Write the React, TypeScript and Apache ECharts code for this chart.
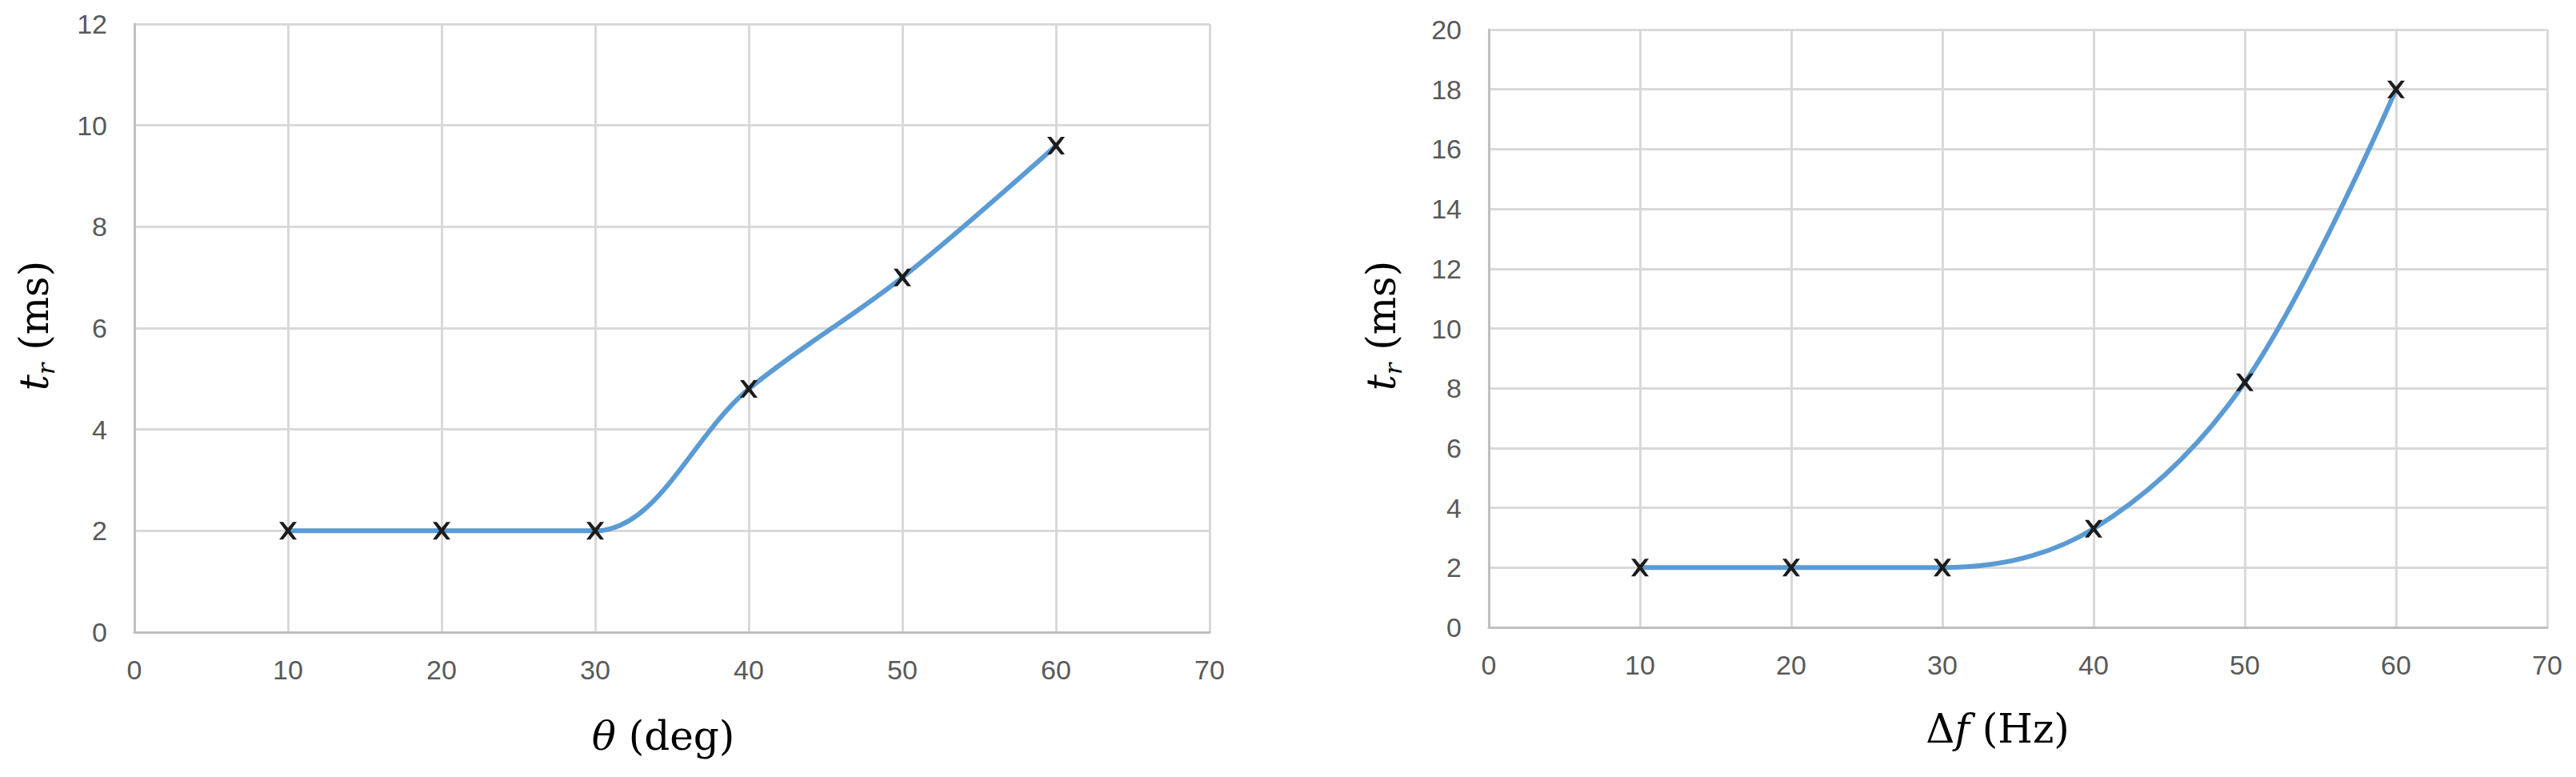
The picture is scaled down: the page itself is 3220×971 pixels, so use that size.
import React, { useEffect, useRef } from "react";
import * as echarts from "echarts";

const xTicks = [0, 10, 20, 30, 40, 50, 60, 70];
const thetaX = [10, 20, 30, 40, 50, 60];
const thetaT = [2.0, 2.0, 2.0, 4.8, 7.0, 9.6];
const dfX = [10, 20, 30, 40, 50, 60];
const dfT = [2.0, 2.0, 2.0, 3.3, 8.2, 18.0];

const xSymbol =
  "path://M0,0L2.2,0L5,3.4L7.8,0L10,0L6.3,5L10,10L7.8,10L5,6.6L2.2,10L0,10L3.7,5Z";

export default function App() {
  const ref = useRef<HTMLDivElement>(null);
  useEffect(() => {
    document.body.style.margin = "0";
    const chart = echarts.init(ref.current!, null, { renderer: "svg" });
    const tickFont = {
      fontFamily: "Liberation Sans",
      fontSize: 34,
      color: "#595959",
    };
    const grid = (i: number) => ({});
    const xAxis = (gi: number) => ({
      type: "value",
      gridIndex: gi,
      min: xTicks[0],
      max: xTicks[xTicks.length - 1],
      interval: 10,
      axisLine: { show: true, lineStyle: { color: "#bfbfbf", width: 3 } },
      axisTick: { show: false },
      axisLabel: { ...tickFont, margin: 30 },
      splitLine: { show: true, lineStyle: { color: "#d9d9d9", width: 3 } },
    });
    const yAxis = (gi: number, max: number) => ({
      type: "value",
      gridIndex: gi,
      min: 0,
      max,
      interval: 2,
      axisLine: { show: true, lineStyle: { color: "#bfbfbf", width: 3 } },
      axisTick: { show: false },
      axisLabel: { ...tickFont, margin: 34 },
      splitLine: { show: true, lineStyle: { color: "#d9d9d9", width: 3 } },
    });
    const series = (gi: number, xs: number[], ys: number[]) => ({
      type: "line",
      xAxisIndex: gi,
      yAxisIndex: gi,
      data: xs.map((x, i) => [x, ys[i]]),
      smooth: 0.35,
      symbol: xSymbol,
      symbolSize: 22,
      lineStyle: { color: "#5b9bd5", width: 6 },
      itemStyle: { color: "#1c1c1c" },
      z: 3,
    });
    const serif = "DejaVu Serif";
    const titleRich = {
      n: { fontFamily: serif, fontSize: 50, color: "#000" },
      i: { fontFamily: serif, fontSize: 50, fontStyle: "italic", color: "#000" },
      s: {
        fontFamily: serif,
        fontSize: 30,
        fontStyle: "italic",
        color: "#000",
        verticalAlign: "bottom",
        padding: [0, 0, -4, 0],
      },
    };
    chart.setOption({
      animation: false,
      grid: [
        { left: 168, top: 30, width: 1344, height: 760 },
        { left: 1861, top: 37, width: 1323, height: 747 },
      ],
      xAxis: [xAxis(0), xAxis(1)],
      yAxis: [yAxis(0, 12), yAxis(1, 20)],
      series: [series(0, thetaX, thetaT), series(1, dfX, dfT)],
      graphic: [
        {
          type: "text",
          x: 829,
          y: 920,
          style: {
            text: "{i|θ}{n| (deg)}",
            rich: titleRich,
            align: "center",
            verticalAlign: "middle",
          },
        },
        {
          type: "text",
          x: 2497,
          y: 911,
          style: {
            text: "{n|Δ}{i|f}{n| (Hz)}",
            rich: titleRich,
            align: "center",
            verticalAlign: "middle",
          },
        },
        {
          type: "text",
          x: 43,
          y: 407,
          rotation: Math.PI / 2,
          style: {
            text: "{i|t}{s|r}{n| (ms)}",
            rich: titleRich,
            align: "center",
            verticalAlign: "middle",
          },
        },
        {
          type: "text",
          x: 1727,
          y: 407,
          rotation: Math.PI / 2,
          style: {
            text: "{i|t}{s|r}{n| (ms)}",
            rich: titleRich,
            align: "center",
            verticalAlign: "middle",
          },
        },
      ],
    });
    return () => chart.dispose();
  }, []);
  return <div ref={ref} style={{ width: 3220, height: 971 }} />;
}
